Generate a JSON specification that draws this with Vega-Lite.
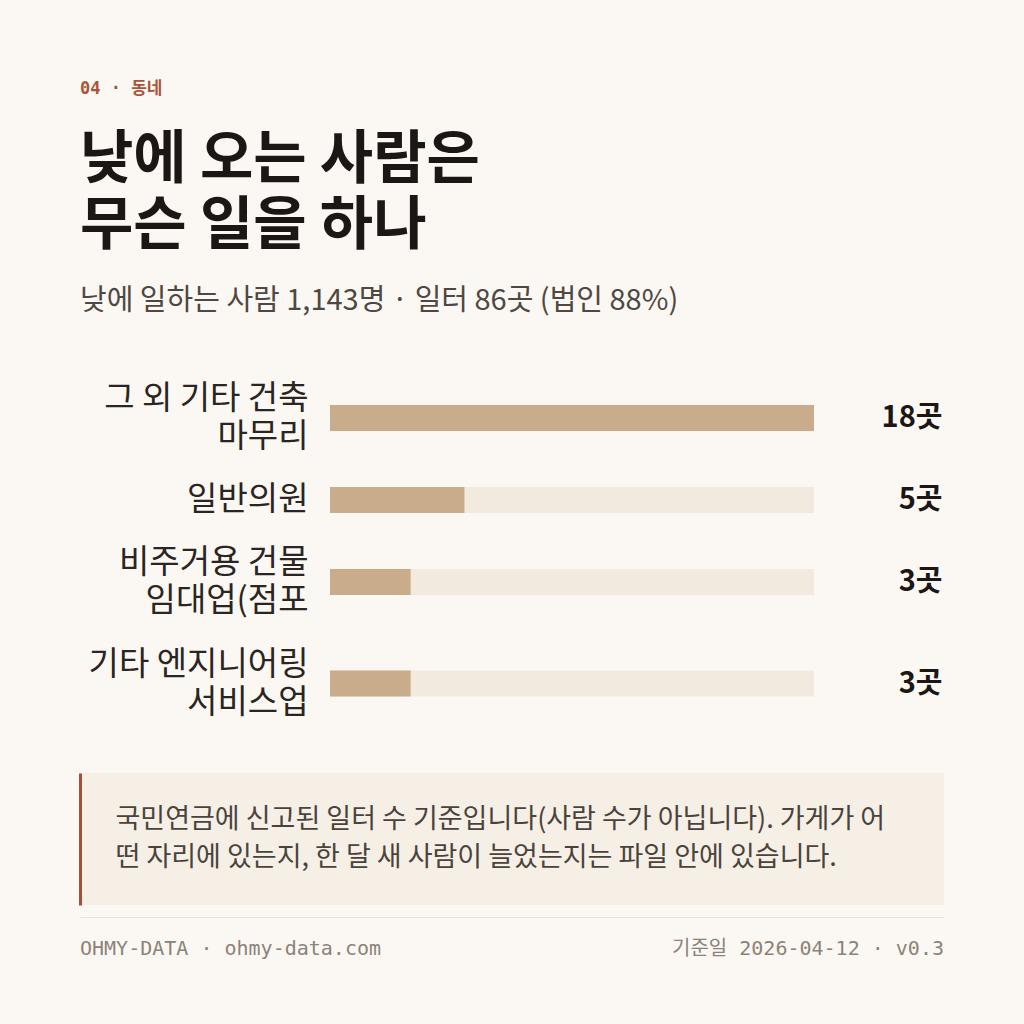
{
  "$schema": "https://vega.github.io/schema/vega-lite/v6.json",
  "background": "#fbf8f3",
  "padding": {"left": 80, "top": 80, "right": 80, "bottom": 46},
  "title": {
    "text": "04 · 동네",
    "anchor": "start",
    "font": "DejaVu Sans Mono, Noto Sans CJK KR",
    "fontSize": 17,
    "fontWeight": "bold",
    "color": "#a9553b",
    "offset": 34
  },
  "datasets": {
    "jobs": [
      {"industry": "그 외 기타 건축\n마무리", "workplaces": 18},
      {"industry": "일반의원", "workplaces": 5},
      {"industry": "비주거용 건물\n임대업(점포", "workplaces": 3},
      {"industry": "기타 엔지니어링\n서비스업", "workplaces": 3}
    ],
    "note": [
      {"note": "국민연금에 신고된 일터 수 기준입니다(사람 수가 아닙니다). 가게가 어\n떤 자리에 있는지, 한 달 새 사람이 늘었는지는 파일 안에 있습니다."}
    ],
    "footer": [
      {"text": "OHMY-DATA · ohmy-data.com"},
      {"text": "기준일 2026-04-12 · v0.3"}
    ]
  },
  "spacing": 38,
  "vconcat": [
    {
      "spacing": 0,
      "vconcat": [
        {
          "title": {
            "text": ["낮에 오는 사람은", "무슨 일을 하나"],
            "subtitle": "낮에 일하는 사람 1,143명 · 일터 86곳 (법인 88%)",
            "anchor": "start",
            "font": "Noto Sans CJK KR",
            "fontSize": 58,
            "fontWeight": "bold",
            "lineHeight": 66,
            "color": "#1c1714",
            "subtitleFont": "Noto Sans CJK KR",
            "subtitleFontSize": 29,
            "subtitleColor": "#4f4842",
            "subtitlePadding": 31,
            "offset": 52
          },
          "width": 864,
          "height": 100,
          "data": {"name": "jobs"},
          "transform": [{"filter": {"field": "industry", "equal": "그 외 기타 건축\n마무리"}}],
          "layer": [
            {
              "mark": {"type": "bar", "height": 26, "color": "#f2eadf"},
              "encoding": {
                "y": {"field": "industry", "type": "nominal", "axis": {"title": null, "domain": false, "ticks": false, "labelFont": "Noto Sans CJK KR", "labelFontSize": 33, "labelColor": "#2a2522", "labelAlign": "right", "labelPadding": -228, "labelLimit": 400, "labelLineHeight": 38, "labelOffset": -19, "labelExpr": "split(datum.label, '\\n')"}},
                "x": {"datum": 18, "type": "quantitative", "scale": {"domain": [0, 18], "range": [250, 734]}, "axis": null}
              }
            },
            {
              "mark": {"type": "bar", "height": 26, "color": "#c9ac8b"},
              "encoding": {
                "y": {"field": "workplaces", "type": "nominal", "axis": {"orient": "right", "title": null, "domain": false, "ticks": false, "labelFont": "Noto Sans CJK KR", "labelFontSize": 29, "labelFontWeight": "bold", "labelColor": "#1c1714", "labelAlign": "right", "labelPadding": -2, "labelExpr": "datum.label + '곳'"}},
                "x": {"field": "workplaces", "type": "quantitative", "scale": {"domain": [0, 18], "range": [250, 734]}, "axis": null}
              }
            }
          ],
          "resolve": {"scale": {"y": "independent"}}
        },
        {
          "width": 864,
          "height": 64,
          "data": {"name": "jobs"},
          "transform": [{"filter": {"field": "industry", "equal": "일반의원"}}],
          "layer": [
            {
              "mark": {"type": "bar", "height": 26, "color": "#f2eadf"},
              "encoding": {
                "y": {"field": "industry", "type": "nominal", "axis": {"title": null, "domain": false, "ticks": false, "labelFont": "Noto Sans CJK KR", "labelFontSize": 33, "labelColor": "#2a2522", "labelAlign": "right", "labelPadding": -228, "labelLimit": 400, "labelLineHeight": 38, "labelExpr": "split(datum.label, '\\n')"}},
                "x": {"datum": 18, "type": "quantitative", "scale": {"domain": [0, 18], "range": [250, 734]}, "axis": null}
              }
            },
            {
              "mark": {"type": "bar", "height": 26, "color": "#c9ac8b"},
              "encoding": {
                "y": {"field": "workplaces", "type": "nominal", "axis": {"orient": "right", "title": null, "domain": false, "ticks": false, "labelFont": "Noto Sans CJK KR", "labelFontSize": 29, "labelFontWeight": "bold", "labelColor": "#1c1714", "labelAlign": "right", "labelPadding": -2, "labelExpr": "datum.label + '곳'"}},
                "x": {"field": "workplaces", "type": "quantitative", "scale": {"domain": [0, 18], "range": [250, 734]}, "axis": null}
              }
            }
          ],
          "resolve": {"scale": {"y": "independent"}}
        },
        {
          "width": 864,
          "height": 100,
          "data": {"name": "jobs"},
          "transform": [{"filter": {"field": "industry", "equal": "비주거용 건물\n임대업(점포"}}],
          "layer": [
            {
              "mark": {"type": "bar", "height": 26, "color": "#f2eadf"},
              "encoding": {
                "y": {"field": "industry", "type": "nominal", "axis": {"title": null, "domain": false, "ticks": false, "labelFont": "Noto Sans CJK KR", "labelFontSize": 33, "labelColor": "#2a2522", "labelAlign": "right", "labelPadding": -228, "labelLimit": 400, "labelLineHeight": 38, "labelOffset": -19, "labelExpr": "split(datum.label, '\\n')"}},
                "x": {"datum": 18, "type": "quantitative", "scale": {"domain": [0, 18], "range": [250, 734]}, "axis": null}
              }
            },
            {
              "mark": {"type": "bar", "height": 26, "color": "#c9ac8b"},
              "encoding": {
                "y": {"field": "workplaces", "type": "nominal", "axis": {"orient": "right", "title": null, "domain": false, "ticks": false, "labelFont": "Noto Sans CJK KR", "labelFontSize": 29, "labelFontWeight": "bold", "labelColor": "#1c1714", "labelAlign": "right", "labelPadding": -2, "labelExpr": "datum.label + '곳'"}},
                "x": {"field": "workplaces", "type": "quantitative", "scale": {"domain": [0, 18], "range": [250, 734]}, "axis": null}
              }
            }
          ],
          "resolve": {"scale": {"y": "independent"}}
        },
        {
          "width": 864,
          "height": 103,
          "data": {"name": "jobs"},
          "transform": [{"filter": {"field": "industry", "equal": "기타 엔지니어링\n서비스업"}}],
          "layer": [
            {
              "mark": {"type": "bar", "height": 26, "color": "#f2eadf"},
              "encoding": {
                "y": {"field": "industry", "type": "nominal", "axis": {"title": null, "domain": false, "ticks": false, "labelFont": "Noto Sans CJK KR", "labelFontSize": 33, "labelColor": "#2a2522", "labelAlign": "right", "labelPadding": -228, "labelLimit": 400, "labelLineHeight": 38, "labelOffset": -19, "labelExpr": "split(datum.label, '\\n')"}},
                "x": {"datum": 18, "type": "quantitative", "scale": {"domain": [0, 18], "range": [250, 734]}, "axis": null}
              }
            },
            {
              "mark": {"type": "bar", "height": 26, "color": "#c9ac8b"},
              "encoding": {
                "y": {"field": "workplaces", "type": "nominal", "axis": {"orient": "right", "title": null, "domain": false, "ticks": false, "labelFont": "Noto Sans CJK KR", "labelFontSize": 29, "labelFontWeight": "bold", "labelColor": "#1c1714", "labelAlign": "right", "labelPadding": -2, "labelExpr": "datum.label + '곳'"}},
                "x": {"field": "workplaces", "type": "quantitative", "scale": {"domain": [0, 18], "range": [250, 734]}, "axis": null}
              }
            }
          ],
          "resolve": {"scale": {"y": "independent"}}
        }
      ]
    },
    {
      "spacing": 12,
      "vconcat": [
        {
          "width": 864,
          "height": 132,
          "data": {"name": "note"},
          "mark": {"type": "bar", "color": "#f5efe6"},
          "encoding": {
            "y": {"field": "note", "type": "nominal", "scale": {"paddingInner": 0, "paddingOuter": 0}, "axis": {"title": null, "zindex": 1, "domainColor": "#a3513a", "domainWidth": 3, "ticks": false, "labelAlign": "left", "labelPadding": -35, "labelOffset": -19, "labelFont": "Noto Sans CJK KR", "labelFontSize": 27, "labelColor": "#4a433d", "labelLimit": 1000, "labelLineHeight": 38, "labelExpr": "split(datum.label, '\\n')"}}
          }
        },
        {
          "width": 864,
          "height": 64,
          "data": {"name": "footer"},
          "mark": {"type": "text", "font": "DejaVu Sans Mono, Noto Sans CJK KR", "fontSize": 20, "color": "#8c8279", "align": {"expr": "indexof(datum.text, 'OHMY') === 0 ? 'left' : 'right'"}},
          "encoding": {
            "x": {"field": "text", "type": "nominal", "sort": null, "scale": {"type": "point", "padding": 0}, "axis": {"orient": "top", "title": null, "labels": false, "ticks": false, "domainColor": "#e9e2d8", "domainWidth": 1}},
            "text": {"field": "text"}
          }
        }
      ]
    }
  ],
  "config": {
    "view": {"stroke": null},
    "font": "Noto Sans CJK KR"
  }
}
